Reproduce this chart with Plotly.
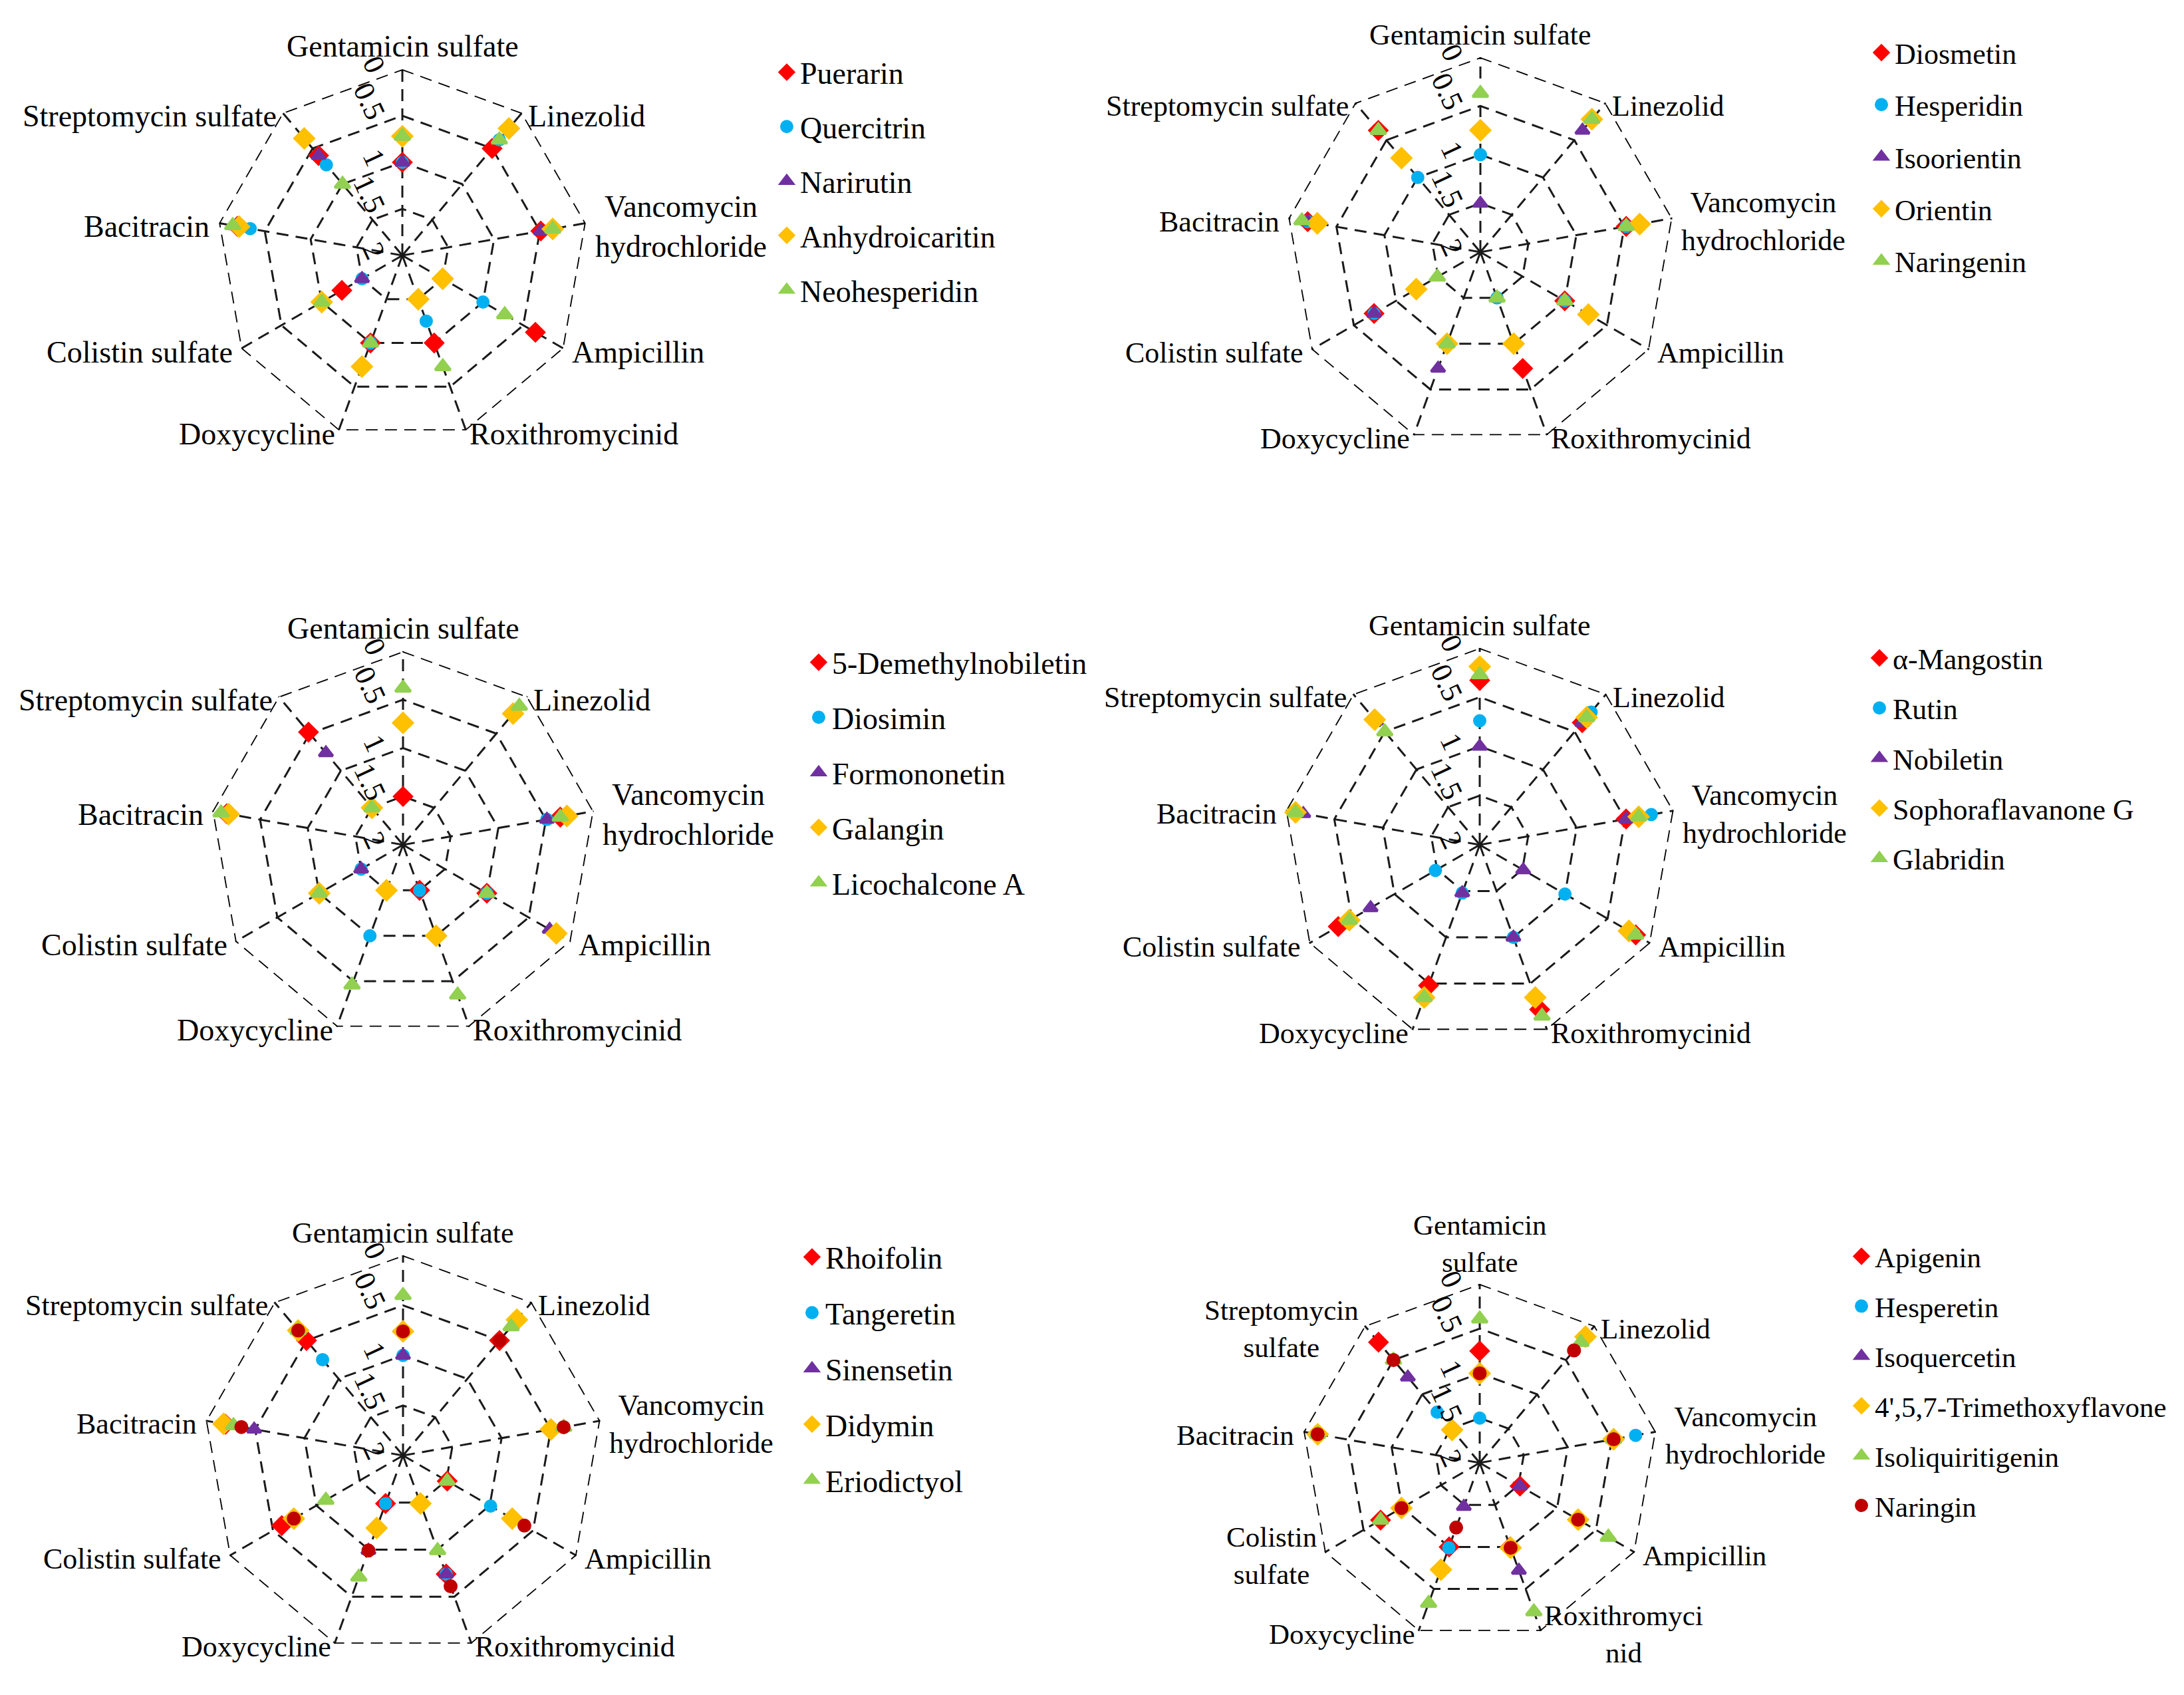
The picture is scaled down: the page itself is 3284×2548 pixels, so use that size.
import math
import plotly.graph_objects as go

W, H = 3284, 2548          # browser window
OFF = 8                    # default body margin of the html page
FW, FH = W - 2 * OFF, H - 2 * OFF
FONT = "Liberation Serif"

# ---------------- categories / ticks ----------------
AXES = ["Gentamicin sulfate", "Linezolid", "Vancomycin<br>hydrochloride", "Ampicillin",
        "Roxithromycinid", "Doxycycline", "Colistin sulfate", "Bacitracin", "Streptomycin sulfate"]
AXES6 = ["Gentamicin<br>sulfate", "Linezolid", "Vancomycin<br>hydrochloride", "Ampicillin",
         "Roxithromyci<br>nid", "Doxycycline", "Colistin<br>sulfate", "Bacitracin", "Streptomycin<br>sulfate"]
R_TICKS = [0, 0.5, 1, 1.5, 2]
R_TICK_TEXT = ["0", "0.5", "1", "1.5", "2"]
R_OUTER = 0   # value at the outer polygon

# ---------------- data (order of AXES) ----------------
names1 = ["Puerarin", "Quercitrin", "Narirutin", "Anhydroicaritin", "Neohesperidin"]
puerarin        = [1.0, 0.50, 0.49, 0.35, 1.00, 1.00, 1.25, 0.20, 0.60]
quercitrin      = [1.0, 0.38, 0.36, 1.00, 1.25, 1.00, 1.50, 0.34, 0.73]
narirutin       = [1.0, 0.38, 0.49, 1.50, 1.50, 0.73, 1.50, 0.18, 0.60]
anhydroicaritin = [0.72, 0.22, 0.36, 1.50, 1.50, 0.73, 1.00, 0.22, 0.36]
neohesperidin   = [0.72, 0.38, 0.36, 0.73, 0.73, 1.00, 1.00, 0.15, 1.00]

names2 = ["Diosmetin", "Hesperidin", "Isoorientin", "Orientin", "Naringenin"]
diosmetin   = [0.75, 0.22, 0.48, 1.00, 0.73, 1.00, 0.74, 0.20, 0.37]
hesperidin  = [1.00, 0.22, 0.48, 1.00, 1.50, 1.00, 0.74, 0.20, 1.00]
isoorientin = [1.50, 0.37, 0.48, 1.00, 1.50, 0.73, 0.74, 0.20, 0.74]
orientin    = [0.75, 0.22, 0.34, 0.72, 1.00, 1.00, 1.24, 0.30, 0.74]
naringenin  = [0.37, 0.22, 0.48, 1.00, 1.50, 1.00, 1.49, 0.14, 0.37]

names3 = ["5-Demethylnobiletin", "Diosimin", "Formononetin", "Galangin", "Licochalcone A"]
demethylnobiletin = [1.50, 0.23, 0.35, 1.00, 1.50, 1.50, 1.00, 0.15, 0.48]
diosimin          = [0.74, 0.23, 0.49, 1.00, 1.50, 1.00, 1.50, 0.15, 1.50]
formononetin      = [0.74, 0.23, 0.49, 0.25, 1.00, 1.50, 1.50, 0.15, 0.76]
galangin          = [0.74, 0.23, 0.28, 0.17, 1.00, 1.50, 1.00, 0.17, 1.50]
licochalcone_a    = [0.38, 0.13, 0.35, 1.00, 0.35, 0.46, 1.00, 0.09, 1.50]

names4 = ["α-Mangostin", "Rutin", "Nobiletin", "Sophoraflavanone G", "Glabridin"]
mangostin          = [0.33, 0.38, 0.49, 0.17, 0.22, 0.48, 0.34, 0.10, 0.34]
rutin              = [0.74, 0.24, 0.23, 1.00, 1.00, 1.48, 1.48, 0.10, 0.36]
nobiletin          = [1.00, 0.38, 0.49, 1.49, 1.00, 1.48, 0.72, 0.18, 0.36]
sophoraflavanone_g = [0.19, 0.31, 0.36, 0.25, 0.35, 0.35, 0.47, 0.10, 0.34]
glabridin          = [0.27, 0.31, 0.36, 0.17, 0.15, 0.35, 0.47, 0.10, 0.50]

names5 = ["Rhoifolin", "Tangeretin", "Sinensetin", "Didymin", "Eriodictyol", "Naringin"]
rhoifolin   = [0.76, 0.50, 0.50, 1.49, 0.74, 1.49, 0.60, 0.20, 0.50]
tangeretin  = [1.00, 0.50, 0.50, 0.99, 0.74, 1.49, 0.74, 0.20, 0.75]
sinensetin  = [1.00, 0.32, 0.50, 0.74, 0.74, 0.99, 0.74, 0.49, 0.37]
didymin     = [0.76, 0.23, 0.50, 0.74, 1.49, 1.23, 0.74, 0.18, 0.37]
eriodictyol = [0.40, 0.32, 0.37, 1.49, 0.99, 0.71, 1.11, 0.28, 0.37]
naringin5   = [0.76, 0.50, 0.37, 0.60, 0.61, 0.99, 0.74, 0.36, 0.37]

names6 = ["Apigenin", "Hesperetin", "Isoquercetin", "4',5,7-Trimethoxyflavone", "Isoliquiritigenin", "Naringin"]
apigenin          = [0.75, 0.16, 0.48, 1.48, 1.00, 1.00, 0.72, 0.16, 0.24]
hesperetin        = [1.50, 0.16, 0.23, 0.73, 1.00, 0.99, 1.00, 0.16, 1.26]
isoquercetin      = [1.00, 0.16, 0.48, 1.48, 0.72, 1.48, 0.99, 0.16, 0.75]
trimethoxyflavone = [1.00, 0.16, 0.48, 0.73, 0.99, 0.73, 0.99, 0.16, 1.52]
isoliquiritigenin = [0.39, 0.24, 0.48, 0.34, 0.23, 0.33, 0.72, 0.16, 0.50]
naringin6         = [1.00, 0.36, 0.48, 0.73, 0.99, 1.23, 0.99, 0.16, 0.50]

# ---------------- styles ----------------
MLW = 4   # marker outline (same colour) -> bigger legend symbols
STYLES = [
    dict(symbol="diamond", color="#FF0000", size=20),
    dict(symbol="circle", color="#00B0F0", size=16),
    dict(symbol="triangle-up", color="#7030A0", size=18),
    dict(symbol="diamond", color="#FFC000", size=22),
    dict(symbol="triangle-up", color="#92D050", size=20),
    dict(symbol="circle", color="#C00000", size=17),
]
GRID = "#1a1a1a"
DASH = "18px,11px"

panels = [
    dict(cats=AXES, names=names1, series=[puerarin, quercitrin, narirutin, anhydroicaritin, neohesperidin],
         cx=605, cy=384, R=280, lx=1193, ly=112, gap=19, show=[1, 1, 1, 1, 1], fs=46, lfs=46),
    dict(cats=AXES, names=names2, series=[diosmetin, hesperidin, isoorientin, orientin, naringenin],
         cx=2226, cy=379, R=293, lx=2839, ly=84, gap=18, show=[1, 1, 1, 1, 1], fs=44, lfs=44),
    dict(cats=AXES, names=names3, series=[demethylnobiletin, diosimin, formononetin, galangin, licochalcone_a],
         cx=606, cy=1270, R=291, lx=1241, ly=999, gap=20, show=[1, 1, 1, 1, 1], fs=46, lfs=46),
    dict(cats=AXES, names=names4, series=[mangostin, rutin, nobiletin, sophoraflavanone_g, glabridin],
         cx=2225, cy=1270, R=296, lx=2836, ly=994, gap=15, show=[1, 1, 1, 1, 1], fs=44, lfs=44),
    dict(cats=AXES, names=names5, series=[rhoifolin, tangeretin, sinensetin, didymin, eriodictyol, naringin5],
         cx=606, cy=2188, R=301, lx=1231, ly=1893, gap=21, show=[1, 1, 1, 1, 1, 0], fs=44, lfs=46),
    dict(cats=AXES6, names=names6, series=[apigenin, hesperetin, isoquercetin, trimethoxyflavone, isoliquiritigenin, naringin6],
         cx=2225, cy=2199, R=269, lx=2809, ly=1894, gap=16, show=[1, 1, 1, 1, 1, 1], fs=43, lfs=43),
]


def px(x):
    return (x - OFF) / FW


def py(y):
    return 1 - (y - OFF) / FH


fig = go.Figure()
layout = dict(width=FW, height=FH, margin=dict(l=0, r=0, t=0, b=0),
              paper_bgcolor="white", plot_bgcolor="white",
              font=dict(family=FONT, size=46, color="black"))
annotations = []

for i, p in enumerate(panels, start=1):
    pk = "polar" if i == 1 else f"polar{i}"
    lk = "legend" if i == 1 else f"legend{i}"
    cats = p["cats"]
    # dashed outer polygon (the 0 ring)
    fig.add_trace(go.Scatterpolar(
        r=[R_OUTER] * (len(cats) + 1), theta=cats + [cats[0]], mode="lines", subplot=pk,
        line=dict(color="#000000", width=3.6, dash=DASH), showlegend=False, hoverinfo="skip",
        cliponaxis=False,
    ))
    for j, (nm, vals) in enumerate(zip(p["names"], p["series"])):
        st = STYLES[j]
        fig.add_trace(go.Scatterpolar(
            r=vals, theta=cats,
            mode="markers", name=nm, subplot=pk, legend=lk,
            legendgroup=f"{i}-{j}", showlegend=bool(p["show"][j]), cliponaxis=False,
            marker=dict(symbol=st["symbol"], color=st["color"], size=st["size"],
                        line=dict(width=MLW, color=st["color"])),
        ))
    cx, cy, R = p["cx"], p["cy"], p["R"]
    layout[pk] = dict(
        domain=dict(x=[px(cx - R), px(cx + R)], y=[py(cy + R), py(cy - R)]),
        gridshape="linear", bgcolor="white",
        radialaxis=dict(range=[2, 0], tickvals=R_TICKS, ticktext=R_TICK_TEXT, angle=90,
                        side="counterclockwise", tickangle=155, showline=False, ticks="",
                        gridcolor=GRID, griddash=DASH, gridwidth=2.5,
                        tickfont=dict(family=FONT, size=44, color="black")),
        angularaxis=dict(categoryorder="array", categoryarray=cats, direction="clockwise",
                         rotation=90, showline=False, showticklabels=False,
                         gridcolor=GRID, griddash=DASH, gridwidth=3.2, ticks=""),
    )
    layout[lk] = dict(x=px(p["lx"] - 30), y=py(p["ly"] - 40), xanchor="left", yanchor="top",
                      bgcolor="rgba(0,0,0,0)", tracegroupgap=p["gap"],
                      font=dict(family=FONT, size=p["lfs"], color="black"))
    # category labels placed at the polygon vertices
    n = len(cats)
    for k, lab in enumerate(cats):
        phi = math.radians(360 * k / n)
        vx, vy = cx + R * math.sin(phi), cy - R * math.cos(phi)
        if k == 0:
            ann = dict(x=px(vx), y=py(vy - 8), xanchor="center", yanchor="bottom")
        elif math.sin(phi) > 0:
            ann = dict(x=px(vx + 13 * math.sin(phi)), y=py(vy + 5), xanchor="left", yanchor="middle")
        else:
            ann = dict(x=px(vx + 13 * math.sin(phi)), y=py(vy + 5), xanchor="right", yanchor="middle")
        ann.update(text=lab, showarrow=False, xref="paper", yref="paper", align="center",
                   font=dict(family=FONT, size=p["fs"], color="black"), borderpad=0)
        annotations.append(ann)

layout["annotations"] = annotations
fig.update_layout(**layout)
fig.write_html("out.html")
